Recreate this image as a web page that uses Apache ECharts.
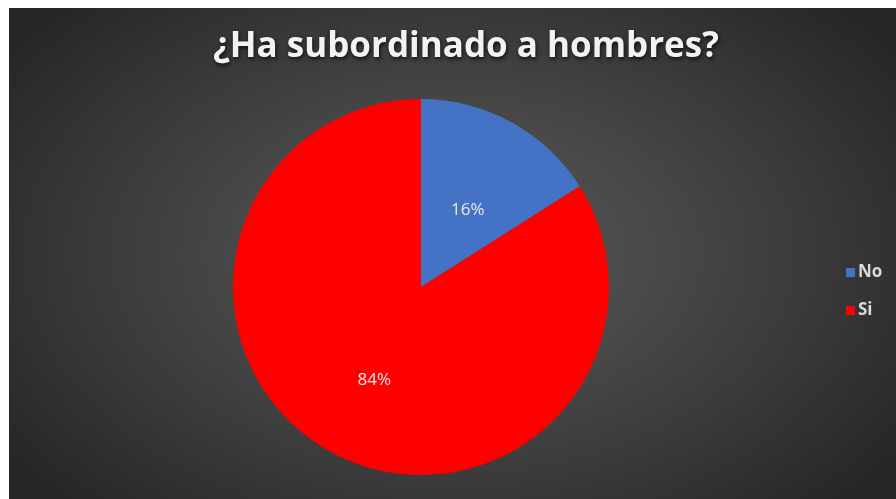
<!DOCTYPE html>
<html>
<head>
<meta charset="utf-8">
<script src="https://cdn.jsdelivr.net/npm/echarts@6/dist/echarts.min.js"></script>
<style>
  html, body { margin: 0; padding: 0; background: #ffffff; }
  #panel {
    position: absolute; left: 9px; top: 8px; width: 887px; height: 491px;
    background: radial-gradient(ellipse 62% 72% at 50% 50%, #575757 0%, #4a4a4a 35%, #3a3a3a 65%, #262626 100%);
  }
  #chart { position: absolute; left: 0; top: 0; width: 896px; height: 499px; }
</style>
</head>
<body>
<div id="panel"></div>
<div id="chart"></div>
<script>
// Survey answers
const titleText = '¿Ha subordinado a hombres?';
const categories = ['No', 'Si'];
const shares = [16, 84];
const sliceColors = ['#4472C4', '#FF0000'];

const chart = echarts.init(document.getElementById('chart'), null, { renderer: 'canvas' });

const pieData = categories.map((name, i) => ({
  name: name,
  value: shares[i],
  itemStyle: { color: sliceColors[i] }
}));

chart.setOption({
  backgroundColor: 'transparent',
  animation: false,
  title: {
    text: titleText,
    left: 461,
    top: 25,
    textAlign: 'center',
    textStyle: {
      fontFamily: 'Open Sans',
      fontWeight: 'bold',
      fontSize: 35,
      color: '#f2f2f2',
      textShadowColor: 'rgba(0,0,0,0.75)',
      textShadowBlur: 4,
      textShadowOffsetX: 1,
      textShadowOffsetY: 2
    }
  },
  legend: {
    orient: 'vertical',
    left: 841,
    top: 259,
    itemWidth: 9,
    itemHeight: 9,
    itemGap: 21,
    icon: 'rect',
    data: categories,
    textStyle: {
      fontFamily: 'Open Sans',
      fontSize: 17,
      fontWeight: 'bold',
      color: '#d9d9d9',
      padding: [0, 0, 0, -2]
    }
  },
  series: [{
    type: 'pie',
    center: [421, 287],
    radius: 188,
    startAngle: 90,
    clockwise: true,
    data: pieData,
    label: {
      show: true,
      position: 'inside',
      formatter: '{c}%',
      fontFamily: 'Open Sans',
      fontSize: 17,
      color: '#eaeaea',
      offset: [0, 8]
    },
    labelLine: { show: false },
    itemStyle: { borderWidth: 0 },
    emphasis: { disabled: true }
  }]
});
</script>
</body>
</html>
